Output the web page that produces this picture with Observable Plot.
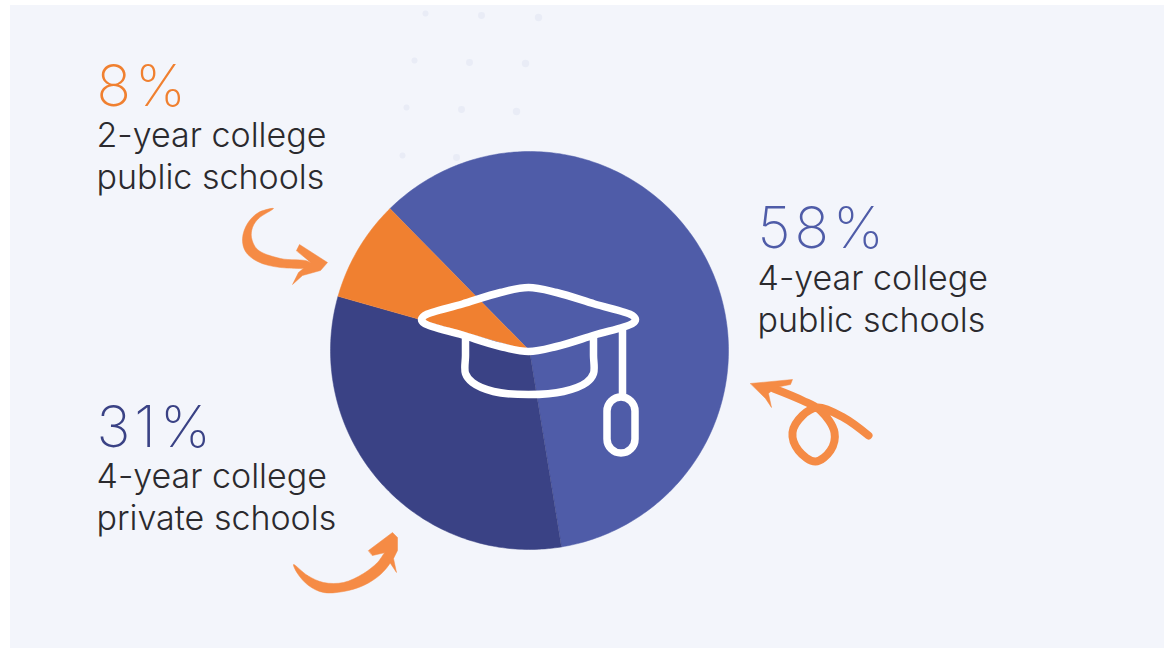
<!DOCTYPE html>
<html>
<head>
<meta charset="utf-8">
<script src="https://cdn.jsdelivr.net/npm/d3@7"></script>
<script src="https://cdn.jsdelivr.net/npm/@observablehq/plot@0.6"></script>
<style>
html,body{margin:0;padding:0;background:#fff}
svg{display:block}
.pct text{letter-spacing:4px}
</style>
</head>
<body>
<div id="chart"></div>
<script>
const categories = ["4-year college\npublic schools", "4-year college\nprivate schools", "2-year college\npublic schools"];
const shares = [58, 31, 8];
const shareLabels = ["58%", "31%", "8%"];
const sliceColors = ["#4f5ca8", "#3a4285", "#f08030"];
const labelX = [757, 96, 96];
const percentY = [247, 446, 105];
const captionY = [290, 488, 147];

const dotsX = [425,481,538,414,469,525,406,461,516,402,456];
const dotsY = [13,15,17,60,62,63,107,109,111,155,157];
const dotsR = [3,4,4.5,3,4,4.5,3,4,4.5,3,4];

const arrowTopBody = [[273,208],[258,218],[252,227],[251,237],[257,249],[280,258],[308,261],[312,266],[280,267],[257,261],[245,251],[242,238],[247,223],[258,212]];
const arrowTopHead = [[296,250],[299,244],[327,262],[320,270],[302,275],[292,284],[298,272],[310,262]];
const arrowBottomBody = [[293,564],[307,575],[323,582],[343,582],[363,573],[377,562],[387,550],[393,555],[390,562],[380,574],[363,585],[343,591],[323,592],[308,585],[297,573]];
const arrowBottomHead = [[368,550],[392,532],[397,537],[397,550],[393,558],[396,572],[388,560],[385,552],[372,555]];
const arrowLoop = [[868,435],[843,417],[817,407],[802,415],[792,432],[798,450],[815,461],[830,450],[834,432],[820,410],[802,400],[773,388]];
const arrowLoopHead = [[750,383],[792,379],[790,384],[775,387],[768,393],[771,407],[765,398]];

const capBoard = [[424,315],[462,303.5],[500,292],[528,287],[556,292],[594,303.5],[632,315],[635,319],[632,323],[594,334.5],[556,346],[528,351],[500,346],[462,334.5],[424,323],[421,319]];
const capCup = [[465,338],[465,355],[465,373],[472,382],[493,391],[528,394],[563,391],[586,382],[593,373],[593,355],[593,337]];
const capCord = [[622,330],[622,395]];

const cx = 529, cy = 350, radius = 199;
const startDeg = -44.5;
const pie = d3.pie().sort(null).startAngle(startDeg*Math.PI/180).endAngle((startDeg+360)*Math.PI/180)(shares);
const wedge = pie.flatMap((p, i) => {
  const n = Math.ceil((p.endAngle - p.startAngle) * 60);
  const pts = [{i, x: cx, y: cy}];
  for (let k = 0; k <= n; k++) {
    const a = p.startAngle + (p.endAngle - p.startAngle) * k / n;
    pts.push({i, x: cx + radius * Math.sin(a), y: cy - radius * Math.cos(a)});
  }
  return pts;
});
const byI = (d) => d.i;
const sx = (d) => d[0], sy = (d) => d[1];
const idx = d3.range(shares.length);
const textFont = "Inter";
const arrowColor = "#f58b45";
const blob = (pts, curve) => Plot.line(pts, {x: sx, y: sy, fill: arrowColor, stroke: arrowColor, strokeWidth: 0.5, curve});

const chart = Plot.plot({
  width: 1164, height: 648,
  margin: 0,
  x: {domain: [0, 1164], range: [0, 1164], axis: null},
  y: {domain: [0, 648], range: [0, 648], axis: null},
  style: {background: "transparent"},
  marks: [
    Plot.rect([0], {x1: 10, x2: 1164, y1: 5, y2: 648, fill: "#f3f5fb"}),
    Plot.dot(d3.range(dotsX.length), {x: (i) => dotsX[i], y: (i) => dotsY[i], r: (i) => dotsR[i], fill: "#e9ecf6"}),
    Plot.line(wedge, {x: "x", y: "y", z: byI, fill: (d) => sliceColors[d.i], stroke: (d) => sliceColors[d.i], strokeWidth: 0.5}),
    Plot.line(capBoard, {x: sx, y: sy, stroke: "white", strokeWidth: 7.5, curve: "catmull-rom-closed", fill: "none"}),
    Plot.line(capCup, {x: sx, y: sy, stroke: "white", strokeWidth: 7.5, curve: "catmull-rom", fill: "none"}),
    Plot.line(capCord, {x: sx, y: sy, stroke: "white", strokeWidth: 7.5}),
    Plot.rect([0], {x1: 607, x2: 635, y1: 397, y2: 453, rx: 14, fill: "none", stroke: "white", strokeWidth: 7.5}),
    blob(arrowTopBody, "catmull-rom-closed"),
    blob(arrowTopHead, "linear-closed"),
    blob(arrowBottomBody, "catmull-rom-closed"),
    blob(arrowBottomHead, "linear-closed"),
    Plot.line(arrowLoop, {x: sx, y: sy, stroke: arrowColor, strokeWidth: 8, curve: "catmull-rom", fill: "none"}),
    blob(arrowLoopHead, "linear-closed"),
    Plot.text(idx, {x: (i) => labelX[i], y: (i) => percentY[i], text: (i) => shareLabels[i], fill: (i) => sliceColors[i], textAnchor: "start", lineAnchor: "bottom", fontSize: 57, fontWeight: 200, fontFamily: textFont, className: "pct"}),
    Plot.text(idx, {x: (i) => labelX[i], y: (i) => captionY[i] - 30, text: (i) => categories[i], fill: "#2b2a2e", textAnchor: "start", lineAnchor: "top", lineHeight: 42/34, fontSize: 34, fontWeight: 300, fontFamily: textFont})
  ]
});
document.getElementById("chart").append(chart);
</script>
</body>
</html>
